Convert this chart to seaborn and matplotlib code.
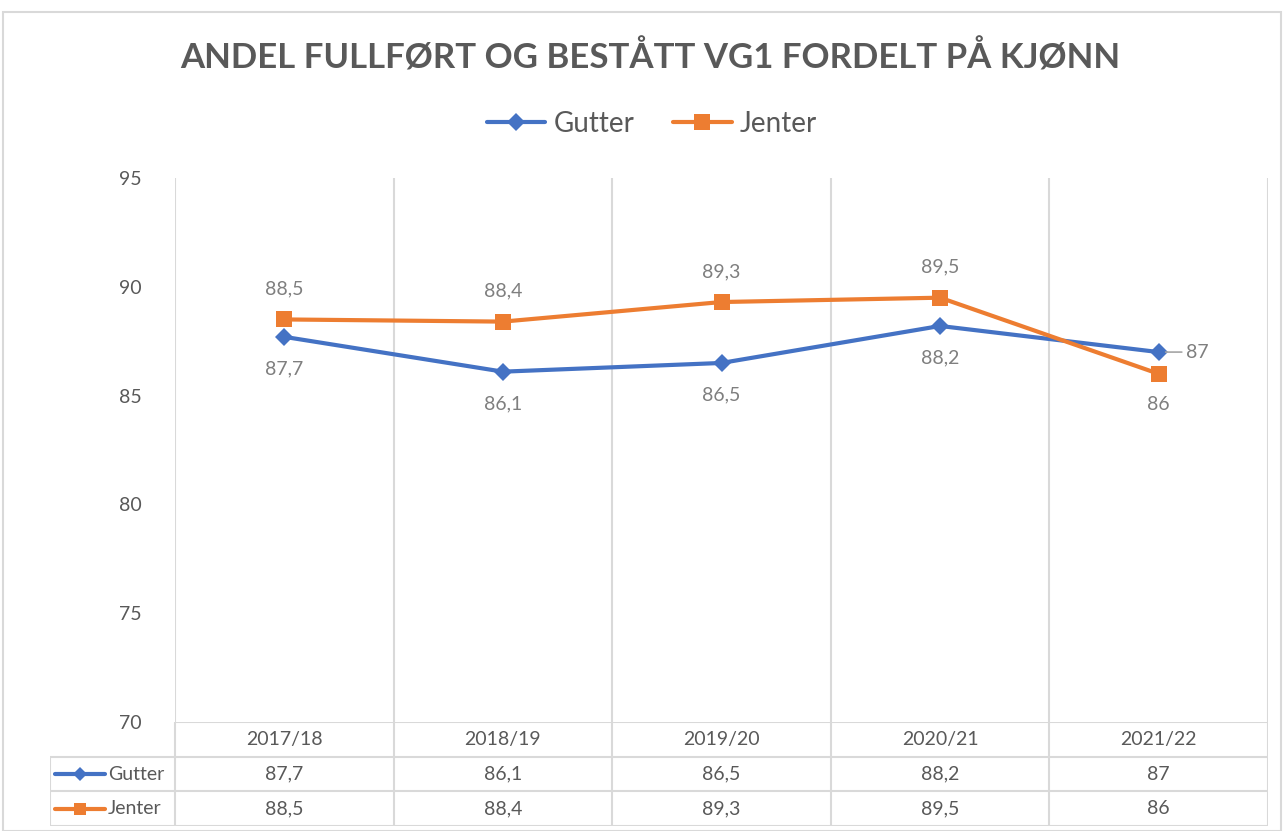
import matplotlib
matplotlib.use("Agg")
import matplotlib.pyplot as plt
from matplotlib.lines import Line2D
from matplotlib.patches import Rectangle
import numpy as np
import pandas as pd
import seaborn as sns

# data
years = ["2017/18", "2018/19", "2019/20", "2020/21", "2021/22"]
gutter = [87.7, 86.1, 86.5, 88.2, 87.0]
jenter = [88.5, 88.4, 89.3, 89.5, 86.0]
series = ["Gutter", "Jenter"]
colors = {"Gutter": "#4472C4", "Jenter": "#ED7D31"}
markers = {"Gutter": "D", "Jenter": "s"}
msize = {"Gutter": 9, "Jenter": 11}
yticks = [70, 75, 80, 85, 90, 95]

title = "ANDEL FULLFØRT OG BESTÅTT VG1 FORDELT PÅ KJØNN"

sns.set_style("white")
plt.rcParams["font.family"] = ["Lato", "DejaVu Sans"]

TXT = "#595959"
LBL = "#7F7F7F"
GRID = "#D9D9D9"


def fmt(v):
    return f"{v:g}".replace(".", ",")


df = pd.DataFrame({
    "pos": list(range(len(years))) * 2,
    "value": gutter + jenter,
    "serie": ["Gutter"] * len(years) + ["Jenter"] * len(years),
})

W, H = 1284, 831
fig = plt.figure(figsize=(W / 100, H / 100), dpi=100)

# outer chart border
fig.patches.append(Rectangle((3 / W, 0.5 / H), 1278 / W, 819 / H, transform=fig.transFigure,
                             fill=False, edgecolor=GRID, lw=1.5))

# plot area
x0, x1 = 175, 1268
y_top, y_bot = 178, 722
ax = fig.add_axes([x0 / W, (H - y_bot) / H, (x1 - x0) / W, (y_bot - y_top) / H])
ax.set_xlim(-0.5, len(years) - 0.5)
ax.set_ylim(70, 95)
ax.vlines(np.arange(-0.5, len(years)), 70, 95, color=GRID, lw=1.5, zorder=0)

for s in series:
    sub = df[df.serie == s]
    sns.lineplot(data=sub, x="pos", y="value", color=colors[s], marker=markers[s],
                 markersize=msize[s], markeredgewidth=0, lw=3, ax=ax, legend=False, zorder=3)

# data labels
for i, v in enumerate(jenter):
    below = v < gutter[i]
    ax.annotate(fmt(v), (i, v), xytext=(0, -22 if below else 22), textcoords="offset points",
                ha="center", va="center", fontsize=14, color=LBL)
for i, v in enumerate(gutter):
    above = v > jenter[i]
    if above:
        ax.annotate(fmt(v), (i, v), xytext=(20, 0), textcoords="offset points",
                    ha="left", va="center", fontsize=14, color=LBL,
                    arrowprops=dict(arrowstyle="-", color="#A6A6A6", lw=1.2, shrinkA=1, shrinkB=5))
    else:
        ax.annotate(fmt(v), (i, v), xytext=(0, -23), textcoords="offset points",
                    ha="center", va="center", fontsize=14, color=LBL)

ax.set_yticks(yticks)
ax.set_xticks([])
ax.tick_params(axis="y", length=0, pad=24, labelsize=14, labelcolor=TXT)
ax.set_xlabel("")
ax.set_ylabel("")
for sp in ax.spines.values():
    sp.set_visible(False)

# data table
col_w = (x1 - x0) / len(years)
left_w = (x0 - 50) / col_w
tax = fig.add_axes([50 / W, (H - 826) / H, (x1 - 50) / W, (826 - y_bot) / H])
tax.set_xlim(-0.5 - left_w, len(years) - 0.5)
tax.set_ylim(3, 0)
tax.axis("off")
left = -0.5 - left_w
tax.hlines(0, -0.5, len(years) - 0.5, color=GRID, lw=1.5)
tax.hlines([1, 2, 3], left, len(years) - 0.5, color=GRID, lw=1.5)
tax.vlines(np.arange(-0.5, len(years)), 0, 3, color=GRID, lw=1.5)
tax.vlines(left, 1, 3, color=GRID, lw=1.5)

for i, y in enumerate(years):
    tax.text(i, 0.5, y, ha="center", va="center", fontsize=14, color=TXT)
for r, (s, vals) in enumerate(zip(series, [gutter, jenter]), start=1):
    kx = [left + 0.025, left + 0.25]
    tax.plot(kx, [r + 0.5] * 2, color=colors[s], lw=3, solid_capstyle="round")
    tax.plot(np.mean(kx), r + 0.5, marker=markers[s], color=colors[s], ms=msize[s] * 0.8, mew=0)
    tax.text(left + 0.265, r + 0.5, s, ha="left", va="center", fontsize=14, color=TXT)
    for i, v in enumerate(vals):
        tax.text(i, r + 0.5, fmt(v), ha="center", va="center", fontsize=14, color=TXT)

# title and legend
fig.text(650 / W, 1 - 57 / H, title, ha="center", va="center", fontsize=25,
         fontweight="bold", color=TXT)
handles = [Line2D([], [], color=colors[s], lw=3, marker=markers[s], ms=msize[s], mew=0)
           for s in series]
fig.legend(handles, series, loc="center", bbox_to_anchor=(652 / W, 1 - 124 / H), ncol=2,
           frameon=False, fontsize=20, labelcolor=TXT, handlelength=2.1, handletextpad=0.3,
           columnspacing=1.4)

fig.savefig("out.png", dpi=100)
